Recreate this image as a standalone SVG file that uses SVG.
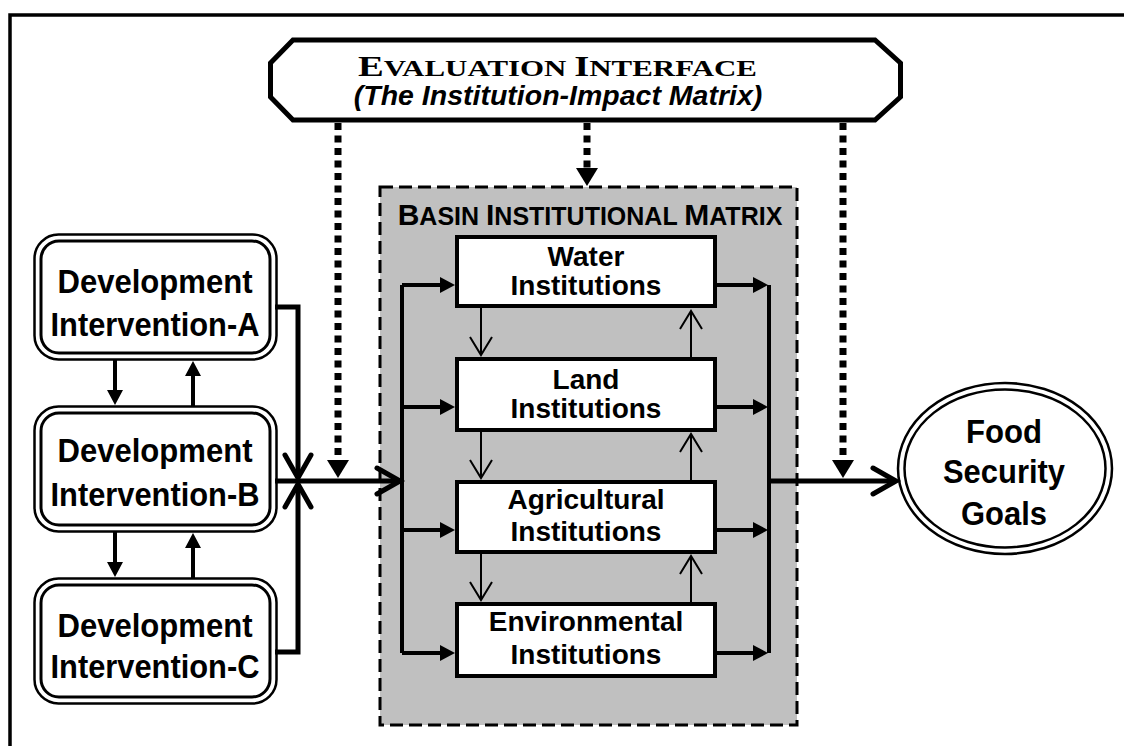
<svg xmlns="http://www.w3.org/2000/svg" width="1124" height="746" viewBox="0 0 1124 746">
<style>
.sans{font-family:"Liberation Sans",Arial,sans-serif;font-weight:bold;fill:#000}
.serif{font-family:"Liberation Serif","Times New Roman",serif;font-weight:bold;fill:#000}
.dev-out{fill:#fff;stroke:#000;stroke-width:2.5}
.dev-in{fill:none;stroke:#000;stroke-width:3}
.inst{fill:#fff;stroke:#000;stroke-width:4}
.thick{fill:none;stroke:#000;stroke-width:5}
.med{fill:none;stroke:#000;stroke-width:4}
.thin{fill:none;stroke:#000;stroke-width:2}
.dot{fill:none;stroke:#000;stroke-width:7;stroke-dasharray:7 5.5}
</style>
<defs>
<marker id="fillhead" markerUnits="userSpaceOnUse" markerWidth="16" markerHeight="16" refX="0" refY="8" orient="auto" overflow="visible"><path d="M0,0 L15,8 L0,16 Z" fill="#000"/></marker>
<marker id="dothead" markerUnits="userSpaceOnUse" markerWidth="18" markerHeight="22" refX="0" refY="11" orient="auto" overflow="visible"><path d="M0,0 L18,11 L0,22 Z" fill="#000"/></marker>
<marker id="openhead" markerUnits="userSpaceOnUse" markerWidth="24" markerHeight="26" refX="23" refY="13" orient="auto" overflow="visible"><path d="M0,0 L23,13 L0,26" fill="none" stroke="#000" stroke-width="5" stroke-linecap="round" stroke-linejoin="miter"/></marker>
<marker id="vhead" markerUnits="userSpaceOnUse" markerWidth="18" markerHeight="22" refX="18" refY="11" orient="auto" overflow="visible"><path d="M0,0 L18,11 L0,22" fill="none" stroke="#000" stroke-width="2"/></marker>
</defs>
<rect width="1124" height="746" fill="#fff"/>
<path d="M10,746 V15 H1124" fill="none" stroke="#000" stroke-width="3.5"/>

<g id="basin">
<rect x="380" y="187" width="417" height="538" fill="#c0c0c0" stroke="#000" stroke-width="3" stroke-dasharray="13 6"/>
<text class="sans" x="590" y="225" text-anchor="middle"><tspan font-size="30">B</tspan><tspan font-size="25">ASIN </tspan><tspan font-size="30">I</tspan><tspan font-size="25">NSTITUTIONAL </tspan><tspan font-size="30">M</tspan><tspan font-size="25">ATRIX</tspan></text>
</g>

<g id="evaluation">
<path d="M293,40 H875 L900.5,63 V97 L875,120 H293 L270.5,97 V63 Z" fill="#fff" stroke="#000" stroke-width="5"/>
<text class="serif" x="358" y="76" textLength="399" lengthAdjust="spacingAndGlyphs"><tspan font-size="30">E</tspan><tspan font-size="24">VALUATION </tspan><tspan font-size="30">I</tspan><tspan font-size="24">NTERFACE</tspan></text>
<text class="sans" x="558" y="105" text-anchor="middle" font-size="28.5" font-style="italic">(The Institution-Impact Matrix)</text>
</g>

<g id="water">
<rect class="inst" x="457" y="237" width="258" height="69"/>
<text class="sans" font-size="28" text-anchor="middle" x="586" y="266">Water</text>
<text class="sans" font-size="28" text-anchor="middle" x="586" y="295">Institutions</text>
</g>
<g id="land">
<rect class="inst" x="457" y="359" width="258" height="71"/>
<text class="sans" font-size="28" text-anchor="middle" x="586" y="389">Land</text>
<text class="sans" font-size="28" text-anchor="middle" x="586" y="418">Institutions</text>
</g>
<g id="agricultural">
<rect class="inst" x="457" y="482" width="258" height="70"/>
<text class="sans" font-size="28" text-anchor="middle" x="586" y="509">Agricultural</text>
<text class="sans" font-size="28" text-anchor="middle" x="586" y="541">Institutions</text>
</g>
<g id="environmental">
<rect class="inst" x="457" y="604" width="258" height="72"/>
<text class="sans" font-size="28" text-anchor="middle" x="586" y="631">Environmental</text>
<text class="sans" font-size="28" text-anchor="middle" x="586" y="664">Institutions</text>
</g>

<g id="dev-a">
<rect class="dev-out" x="34.5" y="234.5" width="242" height="125" rx="24"/>
<rect class="dev-in" x="41" y="241" width="229" height="112" rx="18"/>
<text class="sans" font-size="33" text-anchor="middle" x="155" y="293" textLength="195" lengthAdjust="spacingAndGlyphs">Development</text>
<text class="sans" font-size="33" text-anchor="middle" x="155" y="336" textLength="209" lengthAdjust="spacingAndGlyphs">Intervention-A</text>
</g>
<g id="dev-b">
<rect class="dev-out" x="34.5" y="406.5" width="242" height="125" rx="24"/>
<rect class="dev-in" x="41" y="413" width="229" height="112" rx="18"/>
<text class="sans" font-size="33" text-anchor="middle" x="155" y="462" textLength="195" lengthAdjust="spacingAndGlyphs">Development</text>
<text class="sans" font-size="33" text-anchor="middle" x="155" y="506" textLength="209" lengthAdjust="spacingAndGlyphs">Intervention-B</text>
</g>
<g id="dev-c">
<rect class="dev-out" x="34.5" y="578.5" width="242" height="125" rx="24"/>
<rect class="dev-in" x="41" y="585" width="229" height="112" rx="18"/>
<text class="sans" font-size="33" text-anchor="middle" x="155" y="637" textLength="195" lengthAdjust="spacingAndGlyphs">Development</text>
<text class="sans" font-size="33" text-anchor="middle" x="155" y="678" textLength="209" lengthAdjust="spacingAndGlyphs">Intervention-C</text>
</g>

<g id="food">
<ellipse cx="1005" cy="468.5" rx="107" ry="85.5" fill="#fff" stroke="#000" stroke-width="2.5"/>
<ellipse cx="1005" cy="468.5" rx="100.5" ry="79" fill="none" stroke="#000" stroke-width="2.5"/>
<text class="sans" font-size="33" text-anchor="middle" x="1004" y="443" textLength="76" lengthAdjust="spacingAndGlyphs">Food</text>
<text class="sans" font-size="33" text-anchor="middle" x="1004" y="483" textLength="122" lengthAdjust="spacingAndGlyphs">Security</text>
<text class="sans" font-size="33" text-anchor="middle" x="1004" y="525" textLength="86" lengthAdjust="spacingAndGlyphs">Goals</text>
</g>

<g id="connectors">
<path class="med" d="M115,360 V390" marker-end="url(#fillhead)"/>
<path class="med" d="M193,406 V376" marker-end="url(#fillhead)"/>
<path class="med" d="M115,532 V562" marker-end="url(#fillhead)"/>
<path class="med" d="M193,578 V548" marker-end="url(#fillhead)"/>
<path class="thick" d="M275,307 H298 V478" marker-end="url(#openhead)"/>
<path class="thick" d="M275,652 H298 V484" marker-end="url(#openhead)"/>
<path class="thick" d="M275,481 H400" marker-end="url(#openhead)"/>
<path class="med" d="M402,285 V653"/>
<path class="med" d="M769,285 V653"/>
<path class="med" d="M402,285 H440" marker-end="url(#fillhead)"/>
<path class="med" d="M402,407 H440" marker-end="url(#fillhead)"/>
<path class="med" d="M402,530 H440" marker-end="url(#fillhead)"/>
<path class="med" d="M402,653 H440" marker-end="url(#fillhead)"/>
<path class="med" d="M717,285 H753" marker-end="url(#fillhead)"/>
<path class="med" d="M717,407 H753" marker-end="url(#fillhead)"/>
<path class="med" d="M717,530 H753" marker-end="url(#fillhead)"/>
<path class="med" d="M717,653 H753" marker-end="url(#fillhead)"/>
<path class="thin" d="M481,308 V355" marker-end="url(#vhead)"/>
<path class="thin" d="M481,432 V478" marker-end="url(#vhead)"/>
<path class="thin" d="M481,554 V600" marker-end="url(#vhead)"/>
<path class="thin" d="M691,357 V311" marker-end="url(#vhead)"/>
<path class="thin" d="M691,480 V434" marker-end="url(#vhead)"/>
<path class="thin" d="M691,602 V556" marker-end="url(#vhead)"/>
<path class="thick" d="M769,481 H896" marker-end="url(#openhead)"/>
<path class="dot" d="M338,123 V460" marker-end="url(#dothead)"/>
<path class="dot" d="M587,123 V168" marker-end="url(#dothead)"/>
<path class="dot" d="M843,123 V460" marker-end="url(#dothead)"/>
</g>
</svg>
